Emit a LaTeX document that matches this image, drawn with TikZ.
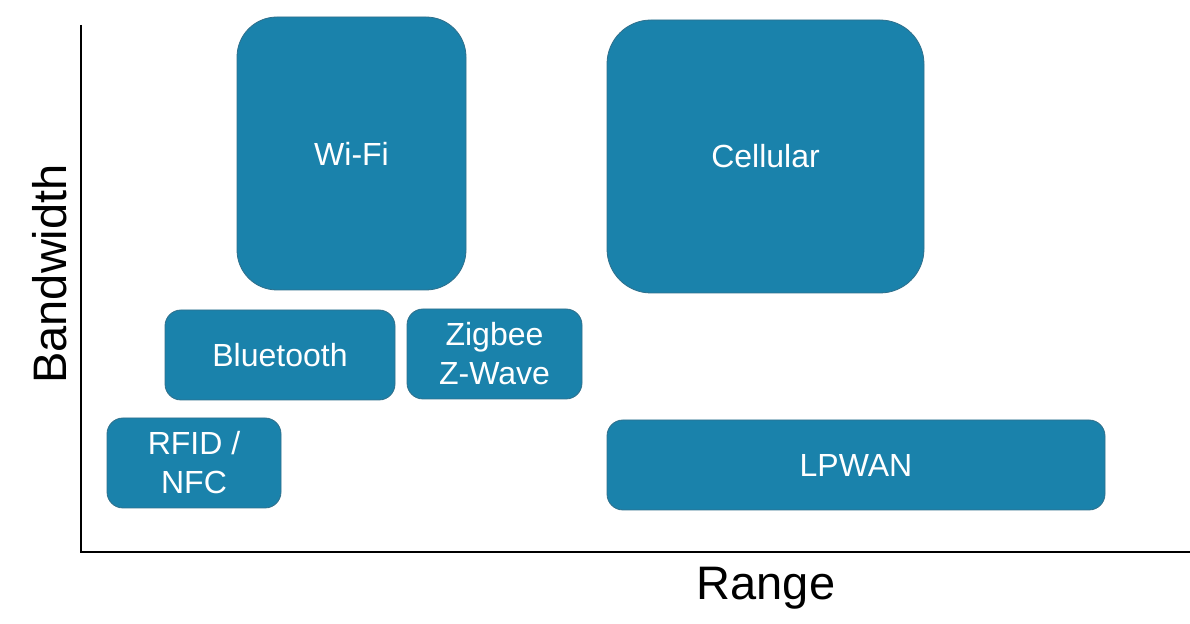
\documentclass[tikz,border=0pt]{standalone}
\usepackage{fontspec}
\setmainfont{Liberation Sans}
\definecolor{techblue}{RGB}{26,130,171}
\definecolor{techedge}{RGB}{48,112,140}
\begin{document}
\begin{tikzpicture}[x=0.5pt,y=-0.5pt,
  tech/.style={fill=techblue,draw=techedge,line width=0.4pt,text=white,
    font=\fontsize{16}{19.5}\selectfont,align=center,inner sep=0pt},
  axislabel/.style={font=\fontsize{23.5}{28}\selectfont}]
\useasboundingbox (0,0) rectangle (1190,624);
\fill[color=white] (0,0) rectangle (1190,624);
% axes
\coordinate (O) at (81,552);
\coordinate (ytop) at (81,25);
\coordinate (xend) at (1190,552);
\draw[line width=0.7pt] (ytop) -- (O) -- (xend);
\node[axislabel] (range) at (766,588) {Range};
\node[axislabel,rotate=90] (bandwidth) at (50,274) {Bandwidth};
% high bandwidth
\node[tech,minimum width=114.5pt,minimum height=136.5pt,rounded corners=20pt] (wifi) at (351.5,153.5) {Wi-Fi};
\node[tech,minimum width=158.5pt,minimum height=136.5pt,rounded corners=22pt] (cellular) at (765.5,156.5) {Cellular};
% middle row
\node[tech,minimum width=115pt,minimum height=45pt,rounded corners=8pt] (bluetooth) at (280,355) {Bluetooth};
\node[tech,minimum width=87.5pt,minimum height=45pt,rounded corners=8pt] (zigbee) at (494.5,354) {Zigbee\\Z-Wave};
% low bandwidth
\node[tech,minimum width=87pt,minimum height=45pt,rounded corners=8pt] (rfid) at (194,463) {RFID /\\NFC};
\node[tech,minimum width=249pt,minimum height=45pt,rounded corners=8pt] (lpwan) at (856,465) {LPWAN};
\end{tikzpicture}
\end{document}
